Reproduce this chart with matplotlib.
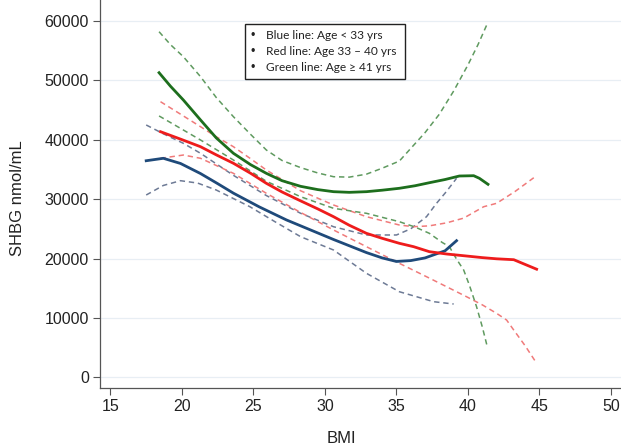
#SHBG vs BMI by age group

#import the libraries
import numpy as np
import matplotlib
matplotlib.use("Agg")
import matplotlib.pyplot as plt
from matplotlib.patches import Rectangle

plt.rcParams["font.family"] = ["Liberation Sans", "DejaVu Sans"]

#fitted curves (BMI, SHBG)
blue_bmi = [17.5, 18.7, 19.9, 21.3, 22.5, 23.6, 25.4, 27.3, 28.3, 30.6, 32.9, 34.0, 35.0, 36.0, 37.0, 38.4, 39.2]
blue_fit = [36460, 36870, 36000, 34300, 32600, 31000, 28700, 26500, 25500, 23200, 21000, 20100, 19500, 19650, 20100, 21300, 23000]
blue_hi_bmi = [17.5, 18.7, 20.1, 21.3, 23.6, 25.9, 28.3, 30.6, 32.9, 35.0, 36.0, 37.1, 37.8, 38.5, 39.2]
blue_hi = [42480, 41000, 39390, 37710, 34000, 30600, 27610, 25350, 23960, 23960, 25000, 27040, 29290, 31300, 33500]
blue_lo_bmi = [17.5, 18.7, 19.9, 21.1, 22.4, 24.75, 26.5, 28.3, 30.6, 32.9, 35.2, 37.6, 39.0]
blue_lo = [30690, 32300, 33100, 32700, 31530, 28720, 26200, 23670, 21430, 17510, 14410, 12730, 12340]

red_bmi = [18.5, 19.9, 21.3, 22.4, 23.6, 24.8, 25.9, 27.0, 28.3, 29.5, 30.6, 31.7, 32.9, 34.0, 35.2, 36.2, 37.3, 38.5, 39.9, 41.0, 42.0, 43.2, 43.9, 44.8]
red_fit = [41350, 40100, 38820, 37450, 36030, 34350, 32660, 31200, 29700, 28350, 27040, 25600, 24240, 23400, 22560, 21990, 21150, 20760, 20420, 20150, 19950, 19800, 19100, 18200]
red_hi_bmi = [18.5, 19.9, 21.3, 22.4, 23.6, 24.8, 25.9, 28.3, 30.6, 32.9, 35.2, 36.2, 37.3, 38.5, 39.7, 41.1, 42.0, 43.3, 44.6]
red_hi = [46400, 44300, 42190, 40500, 38820, 36800, 34900, 31400, 29010, 27040, 25640, 25350, 25500, 26000, 26800, 28720, 29290, 31300, 33600]
red_lo_bmi = [18.5, 20.1, 21.3, 23.6, 25.9, 28.3, 30.6, 32.9, 35.2, 37.3, 39.9, 41.0, 42.0, 42.7, 43.2, 44.0, 44.8]
red_lo = [36870, 37420, 36870, 34340, 30980, 27750, 24800, 21990, 19190, 16700, 13570, 12200, 10770, 9650, 7960, 5300, 2360]

green_bmi = [18.4, 19.2, 20.1, 21.3, 22.4, 23.6, 24.8, 25.9, 27.0, 28.3, 29.5, 30.6, 31.7, 32.9, 34.0, 35.2, 36.3, 37.3, 38.4, 39.4, 40.4, 40.8, 41.4]
green_fit = [51280, 49000, 46680, 43320, 40300, 37710, 35800, 34340, 33100, 32150, 31600, 31250, 31140, 31250, 31500, 31820, 32250, 32760, 33300, 33890, 33940, 33500, 32490]
green_hi_bmi = [18.4, 19.2, 20.1, 21.3, 22.4, 23.6, 24.8, 25.9, 27.0, 28.3, 29.5, 30.6, 31.7, 32.9, 34.0, 35.2, 35.9, 37.0, 38.0, 39.0, 40.0, 40.7, 41.4]
green_hi = [58180, 56000, 53970, 50610, 47100, 43870, 40900, 38270, 36500, 35300, 34400, 33770, 33700, 34200, 35200, 36400, 38270, 41200, 44300, 48200, 52600, 56000, 59800]
green_lo_bmi = [18.4, 20.1, 21.3, 23.6, 25.9, 28.3, 30.6, 32.9, 35.2, 36.3, 37.3, 38.2, 38.7, 39.2, 39.7, 40.1, 40.6, 41.0, 41.35]
green_lo = [44000, 41630, 39950, 36580, 33000, 30400, 28450, 27610, 26200, 25300, 24240, 22700, 21990, 19900, 18060, 15500, 11890, 8500, 5150]

x_ticks = [15, 20, 25, 30, 35, 40, 45, 50]
y_ticks = [0, 10000, 20000, 30000, 40000, 50000, 60000]
legend_lines = ["Blue line: Age < 33 yrs", "Red line: Age 33 \u2013 40 yrs", "Green line: Age \u2265 41 yrs"]

fig = plt.figure(figsize=(6.21, 4.48), dpi=100)
ax = fig.add_axes([100/621, 59.7/448, 521/621, 388.3/448])

#dashed confidence bands
dash = dict(lw=1.1, ls=(0, (3.5, 2.5)))
ax.plot(blue_hi_bmi, blue_hi, color="#6d7a95", **dash)
ax.plot(blue_lo_bmi, blue_lo, color="#6d7a95", **dash)
ax.plot(red_hi_bmi, red_hi, color="#f07a7a", **dash)
ax.plot(red_lo_bmi, red_lo, color="#f07a7a", **dash)
ax.plot(green_hi_bmi, green_hi, color="#5f9a5f", **dash)
ax.plot(green_lo_bmi, green_lo, color="#5f9a5f", **dash)

#fitted lines
ax.plot(blue_bmi, blue_fit, color="#1f4a7a", lw=2.0)
ax.plot(red_bmi, red_fit, color="#ee1c1c", lw=2.0)
ax.plot(green_bmi, green_fit, color="#1d6e1d", lw=2.0)

ax.set_xlim(14.27, 50.7)
ax.set_ylim(-1850, 63520)
ax.set_xticks(x_ticks)
ax.set_yticks(y_ticks)
ax.tick_params(direction="out", length=5, width=0.8, color="#555555",
               labelsize=11.5, labelcolor="#222222", pad=3)
for s in ["top", "right"]:
    ax.spines[s].set_visible(False)
for s in ["left", "bottom"]:
    ax.spines[s].set_color("#555555")
    ax.spines[s].set_linewidth(0.9)
ax.grid(axis="y", color="#e8eef4", lw=0.9)
ax.set_axisbelow(True)

fig.text(341/621, 1 - 438/448, "BMI", ha="center", va="center", fontsize=12, color="#222222")
fig.text(18/621, 1 - 198/448, "SHBG nmol/mL", ha="center", va="center", rotation=90,
         fontsize=12, color="#222222")

#legend box
fig.add_artist(Rectangle((245/621, 1 - 79/448), 160/621, 55/448, transform=fig.transFigure,
                         facecolor="white", edgecolor="#222222", lw=1.0))
for i, t in enumerate(legend_lines):
    yy = 1 - (35.7 + 16*i)/448
    fig.text(253/621, yy, "\u2022", ha="center", va="center", fontsize=9, color="#222222")
    fig.text(266/621, yy, t, ha="left", va="center", fontsize=8.6, color="#222222",
             family=["Lato", "DejaVu Sans"])

plt.savefig("out.png", dpi=100)
